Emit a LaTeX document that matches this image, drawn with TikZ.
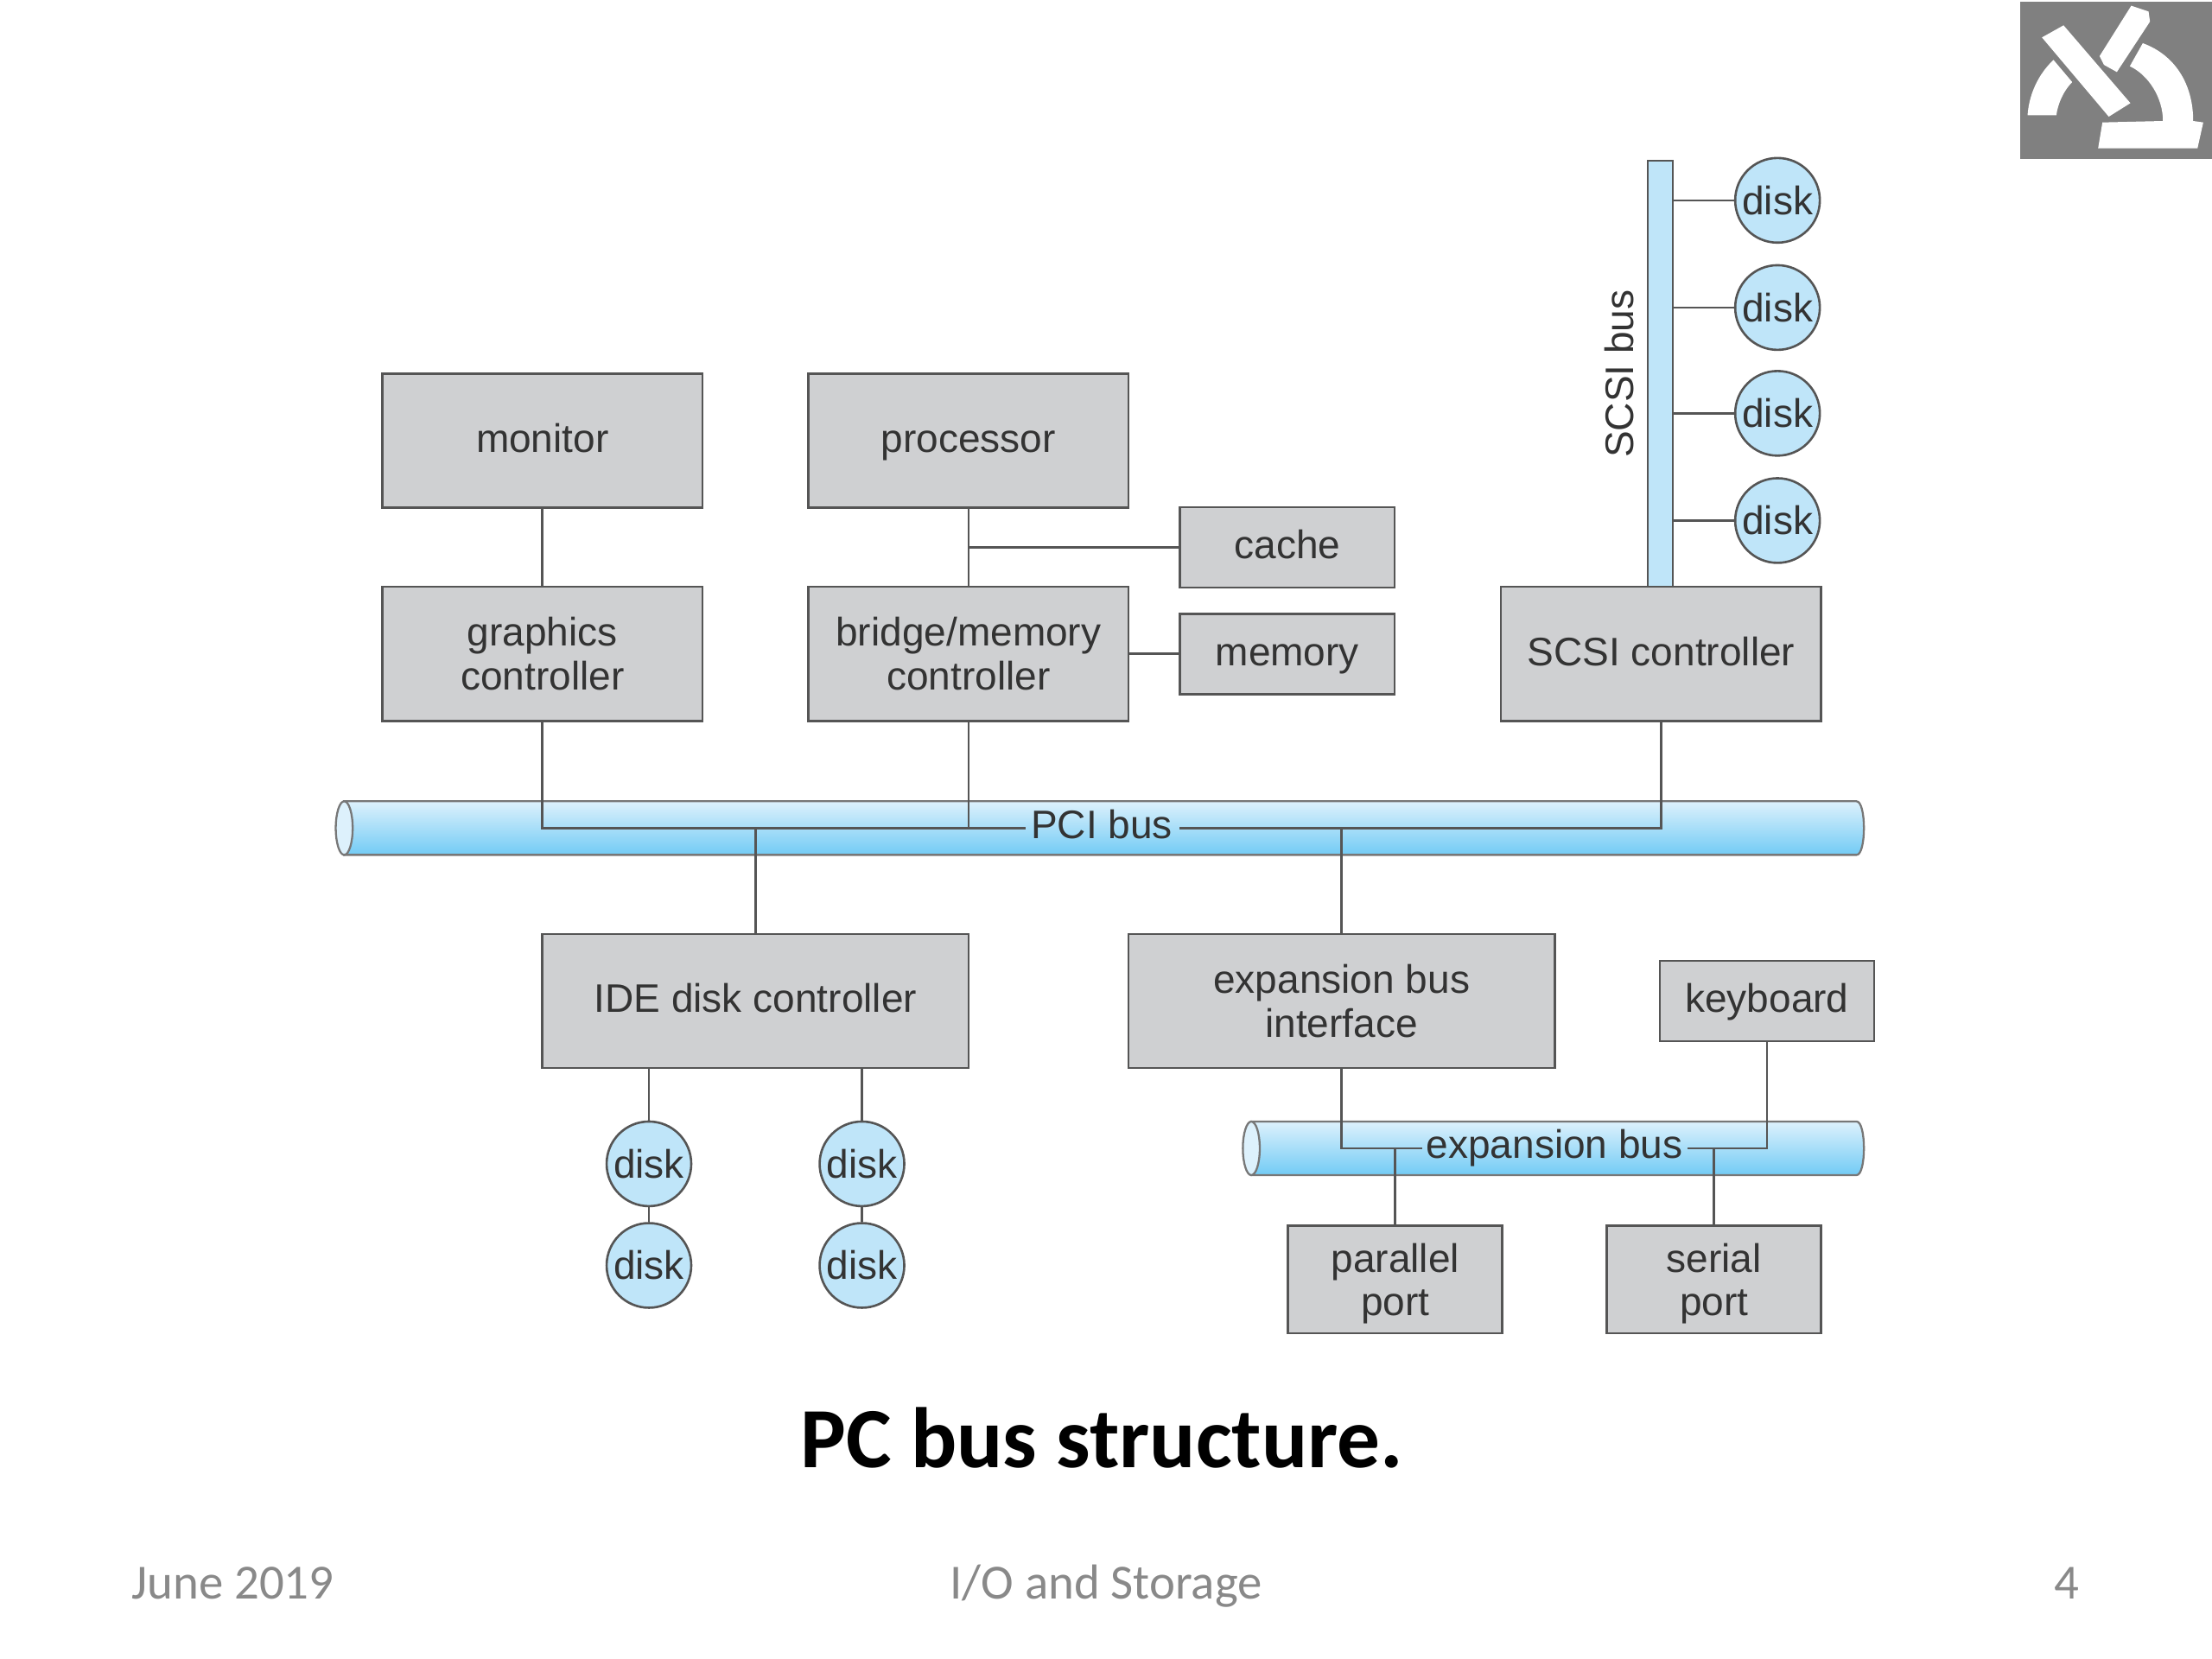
\documentclass[tikz,border=0pt]{standalone}
\usepackage{fontspec}
\setmainfont{Liberation Sans}
\newfontfamily\slidefont{Carlito}
\usepackage{tikz}
\definecolor{boxgray}{HTML}{CFD0D2}
\definecolor{boxline}{HTML}{555555}
\definecolor{disklight}{HTML}{BFE5F9}
\definecolor{bustop}{HTML}{DDF1FC}
\definecolor{busbot}{HTML}{72CBF5}
\definecolor{slidetext}{HTML}{898989}
\definecolor{logogray}{HTML}{808080}
\tikzset{
  hw/.style={draw=boxline,fill=boxgray,line width=0.8pt,inner sep=0pt,align=center,text=black!80,
    font=\fontsize{14.1}{15.6}\selectfont},
  bigbox/.style={hw,minimum width=113.5pt,minimum height=47.5pt},
  widebox/.style={hw,minimum width=151pt,minimum height=47.5pt},
  smallbox/.style={hw,minimum width=76pt,minimum height=28.5pt},
  portbox/.style={hw,minimum width=76pt,minimum height=38pt,text depth=0pt},
  oneline/.style={text height=10.7pt,text depth=2.5pt},
  disknode/.style={circle,draw=boxline,fill=disklight,line width=0.8pt,inner sep=0pt,minimum size=30pt,
    text=black!80,font=\fontsize{14.1}{15.6}\selectfont},
  wire/.style={draw=boxline,line width=0.8pt},
  buslabel/.style={inner sep=0pt,text=black!80,font=\fontsize{14.1}{15.6}\selectfont},
  busbody/.style={top color=bustop,bottom color=busbot,draw=boxline!80,line width=0.7pt},
  footnode/.style={text=slidetext,font=\slidefont\fontsize{17.4}{20}\selectfont,text height=12pt,text depth=3.5pt}
}
\begin{document}
\begin{tikzpicture}[x=0.5pt,y=-0.5pt]
        \useasboundingbox (0,0) rectangle (1568,1176);

        \fill[logogray] (1432,1) rectangle (1568,113);
        \begin{scope}[shift={(1420.9,0)},x=0.1021pt,y=-0.1021pt]
        \fill[white] (130,130) -- (205,88) -- (437,358) -- (362,405) -- cycle;
        \fill[white] (330,195) -- (440,20) -- (500,40) -- (505,75) -- (390,250) -- (345,225) -- cycle;
        \fill[white] (480,150) .. controls (590,190) and (655,290) .. (655,420) -- (690,425) -- (670,515) -- (325,515) -- (340,425) -- (550,420) .. controls (550,340) and (500,260) .. (435,230) -- cycle;
        \fill[white] (170,208) .. controls (115,260) and (85,330) .. (80,400) -- (180,400) .. controls (185,360) and (205,315) .. (235,285) -- cycle;
        \end{scope}

        \shade[busbody] (244,568) -- (1316,568) .. controls (1323,568) and (1323,606) .. (1316,606) -- (244,606) -- cycle;
        \draw[boxline!80,fill=bustop,line width=0.7pt] (244,587) ellipse [x radius=6,y radius=19];
        \shade[busbody] (887,795) -- (1316,795) .. controls (1323,795) and (1323,833) .. (1316,833) -- (887,833) -- cycle;
        \draw[boxline!80,fill=bustop,line width=0.7pt] (887,814) ellipse [x radius=6,y radius=19];

        \node[draw=boxline,fill=disklight,line width=0.7pt,inner sep=0pt,minimum width=9pt,minimum height=151pt] (scsibus) at (1177,265) {};
        \node[buslabel,rotate=90] (scsilabel) at (1148,265) {SCSI bus};

        \node[bigbox,oneline] (monitor) at (384.5,312.5) {monitor};
        \node[bigbox] (graphics) at (384.5,463.5) {graphics\\controller};
        \node[bigbox,oneline] (processor) at (686.5,312.5) {processor};
        \node[bigbox] (bridge) at (686.5,463.5) {bridge/memory\\controller};
        \node[smallbox,oneline] (cache) at (912.5,388) {cache};
        \node[smallbox,oneline] (memory) at (912.5,463.5) {memory};
        \node[bigbox,oneline] (scsictl) at (1177.5,463.5) {SCSI controller};
        \node[widebox,oneline] (idectl) at (535.5,709.5) {IDE disk controller};
        \node[widebox] (expiface) at (951,709.5) {expansion bus\\interface};
        \node[smallbox,oneline] (keyboard) at (1252.5,709.5) {keyboard};
        \node[portbox] (parallel) at (989,907) {parallel\\port};
        \node[portbox] (serial) at (1215,907) {serial\\port};

        \node[disknode] (scsidiska) at (1260,142) {disk};
        \node[disknode] (scsidiskb) at (1260,218) {disk};
        \node[disknode] (scsidiskc) at (1260,293) {disk};
        \node[disknode] (scsidiskd) at (1260,369) {disk};
        \node[disknode] (idediska) at (460,825) {disk};
        \node[disknode] (idediskb) at (460,897) {disk};
        \node[disknode] (idediskc) at (611,825) {disk};
        \node[disknode] (idediskd) at (611,897) {disk};

        \node[buslabel] (pcilabel) at (781,584.5) {PCI bus};
        \node[buslabel] (explabel) at (1102,814) {expansion bus};
        \coordinate (pcileft) at (727,587);
        \coordinate (pciright) at (836,587);
        \coordinate (expleft) at (1008,814);
        \coordinate (expright) at (1196,814);

        \draw[wire] (monitor) -- (graphics);
        \draw[wire] (processor) -- (bridge);
        \draw[wire] (processor.south |- cache.west) -- (cache.west);
        \draw[wire] (bridge.east) -- (memory.west);
        \draw[wire] (graphics.south) |- (pcileft);
        \draw[wire] (bridge.south) -- (bridge.south |- pcileft);
        \draw[wire] (scsictl.south) |- (pciright);
        \draw[wire] (idectl.north) -- (idectl.north |- pcileft);
        \draw[wire] (expiface.north) -- (expiface.north |- pciright);
        \draw[wire] (expiface.south) |- (expleft);
        \draw[wire] (keyboard.south) |- (expright);
        \draw[wire] (parallel.north) -- (parallel.north |- expleft);
        \draw[wire] (serial.north) -- (serial.north |- expright);
        \draw[wire] (scsidiska.west) -- (scsidiska.west -| scsibus.east);
        \draw[wire] (scsidiskb.west) -- (scsidiskb.west -| scsibus.east);
        \draw[wire] (scsidiskc.west) -- (scsidiskc.west -| scsibus.east);
        \draw[wire] (scsidiskd.west) -- (scsidiskd.west -| scsibus.east);
        \draw[wire] (idediska.north) -- (idediska.north |- idectl.south);
        \draw[wire] (idediskc.north) -- (idediskc.north |- idectl.south);
        \draw[wire] (idediska) -- (idediskb);
        \draw[wire] (idediskc) -- (idediskd);

        \node[font=\slidefont\bfseries\fontsize{30.4}{34}\selectfont] (title) at (781,1019) {PC bus structure.};
        \node[footnode] (footdate) at (165,1125) {June 2019};
        \node[footnode] (foottopic) at (784,1125) {I/O and Storage};
        \node[footnode] (footpage) at (1465,1125) {4};
\end{tikzpicture}
\end{document}
